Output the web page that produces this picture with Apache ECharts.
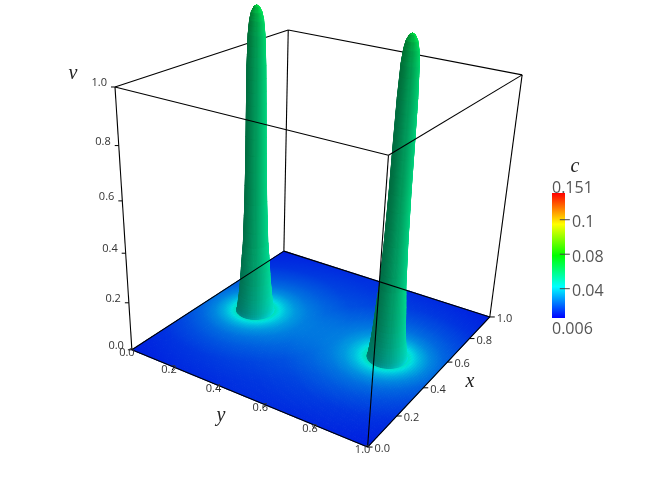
<!DOCTYPE html>
<html><head><meta charset="utf-8">
<style>html,body{margin:0;padding:0;background:#fff}#c{width:655px;height:495px}</style>
<script src="https://cdn.jsdelivr.net/npm/echarts@6/dist/echarts.min.js"></script>
</head><body><div id="c"></div>
<script>
// ---- values ----
const xTicks = [0, 0.2, 0.4, 0.6, 0.8, 1];
const yTicks = [0, 0.2, 0.4, 0.6, 0.8, 1];
const vTicks = [0, 0.2, 0.4, 0.6, 0.8, 1];
const spikeCentres = [[0.5, 0.2], [0.5, 0.8]];
const spikeV = [0, 0.008, 0.02, 0.045, 0.08, 0.14, 0.22, 0.3, 0.476, 0.67, 0.86, 1.0, 1.11, 1.16, 1.187, 1.205, 1.21];
const spikeR = [0.074, 0.072, 0.07, 0.067, 0.063, 0.058, 0.053, 0.047, 0.041, 0.037, 0.035, 0.033, 0.029, 0.024, 0.018, 0.009, 0];
const spikeC = [0.042, 0.044, 0.046, 0.048, 0.05, 0.052, 0.054, 0.055, 0.056, 0.057, 0.057, 0.058, 0.06, 0.062, 0.064, 0.066, 0.068];
const floorR = [0, 0.07, 0.085, 0.1, 0.125, 0.16, 0.21, 0.28, 0.38, 0.5, 0.7, 1.0];
const floorExtraC = [0.04, 0.039, 0.036, 0.031, 0.025, 0.019, 0.014, 0.01, 0.006, 0.004, 0.002, 0];
const floorBaseC = 0.007;
const cMin = 0.006, cMax = 0.151;
const cMajorTicks = [0.04, 0.08, 0.12];
const cMinorTicks = [0.008, 0.016, 0.024, 0.032, 0.048, 0.056, 0.064, 0.072, 0.088, 0.096, 0.104, 0.112, 0.128, 0.136, 0.144];
const cLabelValues = [0.006, 0.04, 0.08, 0.12, 0.151];
const cLabels = ['0.006', '0.04', '0.08', '0.1', '0.151'];
const rainbow = ['#0000ff', '#00ffff', '#00ff00', '#ffff00', '#ff0000'];

// ---- camera: pixel position of each cube corner in the page ----
const cubeCorners = [
  [0,0,0,132,350],[0,1,0,367,447],[1,1,0,490,317],[1,0,0,284,251],
  [0,0,1,115,87],[0,1,1,389,155],[1,1,1,522,75],[1,0,1,288,30]
];
function solveCamera(cs){
  const A=Array.from({length:11},()=>new Array(12).fill(0));
  const add=(r,b)=>{for(let i=0;i<11;i++){for(let j=0;j<11;j++)A[i][j]+=r[i]*r[j];A[i][11]+=r[i]*b;}};
  cs.forEach(([x,y,z,u,v])=>{
    add([x,y,z,1,0,0,0,0,-u*x,-u*y,-u*z],u);
    add([0,0,0,0,x,y,z,1,-v*x,-v*y,-v*z],v);
  });
  for(let i=0;i<11;i++){
    let p=i;for(let k=i+1;k<11;k++)if(Math.abs(A[k][i])>Math.abs(A[p][i]))p=k;
    [A[i],A[p]]=[A[p],A[i]];
    for(let k=0;k<11;k++){if(k===i)continue;const f=A[k][i]/A[i][i];for(let j=i;j<12;j++)A[k][j]-=f*A[i][j];}
  }
  const s=A.map((r,i)=>r[11]/r[i]);
  return s;
}
const M = solveCamera(cubeCorners);
function project(x,y,z){
  const w=M[8]*x+M[9]*y+M[10]*z+1;
  return [(M[0]*x+M[1]*y+M[2]*z+M[3])/w,(M[4]*x+M[5]*y+M[6]*z+M[7])/w,w];
}
// ---- colour helpers ----
const rgbStops = rainbow.map(h=>[1,3,5].map(i=>parseInt(h.substr(i,2),16)));
function cColour(c,shade){
  let t=Math.max(0,Math.min(0.9999,(c-cMin)/(cMax-cMin)))*(rgbStops.length-1);
  const i=Math.floor(t),f=t-i,a=rgbStops[i],b=rgbStops[i+1];
  const ch=k=>Math.round(Math.min(255,(a[k]+(b[k]-a[k])*f)*shade));
  return 'rgb('+ch(0)+','+ch(1)+','+ch(2)+')';
}
function lookup(xs,ys,x){
  if(x<=xs[0])return ys[0];
  for(let i=1;i<xs.length;i++)if(x<=xs[i]){const f=(x-xs[i-1])/(xs[i]-xs[i-1]);return ys[i-1]+(ys[i]-ys[i-1])*f;}
  return ys[ys.length-1];
}
const shadeOf=(nx,ny,nz)=>0.64+0.15*(nx+ny)+0.24*nz;

// ---- meshes (display tessellation only) ----
const floorCells=[];
const FN=110;
for(let i=0;i<FN;i++)for(let j=0;j<FN;j++){
  const x0=i/FN,x1=(i+1)/FN,y0=j/FN,y1=(j+1)/FN,cx=(x0+x1)/2,cy=(y0+y1)/2;
  let c=floorBaseC;
  spikeCentres.forEach(s=>{c+=lookup(floorR,floorExtraC,Math.hypot(cx-s[0],cy-s[1]));});
  floorCells.push({pts:[[x0,y0,0],[x1,y0,0],[x1,y1,0],[x0,y1,0]].map(p=>project(...p)),fill:cColour(c,0.88)});
}
floorCells.sort((a,b)=>b.pts[0][2]-a.pts[0][2]);
const SECT=64;
const spikeCells=[];
spikeCentres.forEach(s=>{
  for(let k=0;k<spikeV.length-1;k++){
    const SUB=3;
    for(let q=0;q<SUB;q++){
      const f0=q/SUB,f1=(q+1)/SUB;
      const r0=spikeR[k]+(spikeR[k+1]-spikeR[k])*f0,r1=spikeR[k]+(spikeR[k+1]-spikeR[k])*f1;
      const v0=spikeV[k]+(spikeV[k+1]-spikeV[k])*f0,v1=spikeV[k]+(spikeV[k+1]-spikeV[k])*f1;
      const c=spikeC[k]+(spikeC[k+1]-spikeC[k])*(f0+f1)/2;
      for(let a=0;a<SECT;a++){
        const t0=a/SECT*2*Math.PI,t1=(a+1)/SECT*2*Math.PI,tm=(t0+t1)/2;
        const P=(r,v,t)=>project(s[0]+r*Math.cos(t),s[1]+r*Math.sin(t),v);
        const pts=[P(r0,v0,t0),P(r0,v0,t1),P(r1,v1,t1),P(r1,v1,t0)];
        const area=pts.reduce((acc,p,i)=>{const n=pts[(i+1)%4];return acc+p[0]*n[1]-n[0]*p[1];},0);
        if(area<=0)continue;
        const dv=v1-v0,dr=r0-r1,l=Math.hypot(dv,dr)||1;
        const sh=shadeOf(dv/l*Math.cos(tm),dv/l*Math.sin(tm),dr/l);
        spikeCells.push({pts,fill:cColour(c,sh),w:pts.reduce((acc,p)=>acc+p[2],0)});
      }
    }
  }
});
spikeCells.sort((a,b)=>b.w-a.w);

const backEdges=[[[0,0,1],[1,0,1]],[[1,0,1],[1,1,1]],[[1,0,0],[1,0,1]]];
const frontEdges=[[[0,0,0],[0,0,1]],[[0,1,0],[0,1,1]],[[1,1,0],[1,1,1]],
  [[0,0,1],[0,1,1]],[[0,1,1],[1,1,1]],
  [[0,0,0],[0,1,0]],[[0,1,0],[1,1,0]],[[1,1,0],[1,0,0]],[[1,0,0],[0,0,0]]];

const tickLabelFont='11px "Open Sans"';
const tickMarks=[],tickTexts=[];
xTicks.forEach(t=>{const p=project(t,1,0);tickMarks.push([p[0],p[1],p[0]+5,p[1]]);
  tickTexts.push({x:p[0]+7,y:p[1]+2,text:t.toFixed(1),align:'left'});});
yTicks.forEach(t=>{const p=project(0,t,0);if(t>0&&t<1)tickMarks.push([p[0],p[1],p[0]-2,p[1]+3]);
  tickTexts.push({x:p[0]-5,y:p[1]+3,text:t.toFixed(1),align:'center'});});
vTicks.forEach(t=>{const p=project(0,0,t);tickMarks.push([p[0],p[1],p[0]-4,p[1]]);
  tickTexts.push({x:p[0]-8,y:p[1]-4,text:t.toFixed(1),align:'right'});});

const axisTitles=[
  {text:'v',x:73,y:74},{text:'x',x:470,y:382},{text:'y',x:221,y:416},{text:'c',x:575,y:167}
];

function polySeries(cells,z){
  return {type:'custom',coordinateSystem:'none',z,silent:true,animation:false,progressive:0,
    data:cells.map((_,i)=>i),clip:false,
    renderItem(params){const q=cells[params.dataIndex];
      return {type:'polygon',shape:{points:q.pts.map(p=>[p[0],p[1]])},
        style:{fill:q.fill,stroke:q.fill,lineWidth:1}};}};
}
function edgeSeries(edges,z){
  return {type:'custom',coordinateSystem:'none',z,silent:true,animation:false,progressive:0,
    data:edges.map((_,i)=>i),
    renderItem(params){const e=edges[params.dataIndex],a=project(...e[0]),b=project(...e[1]);
      return {type:'line',shape:{x1:a[0],y1:a[1],x2:b[0],y2:b[1]},style:{stroke:'#000',lineWidth:1.1}};}};
}
const chart=echarts.init(document.getElementById('c'),null,{renderer:'canvas',width:655,height:495});
chart.setOption({
  animation:false,backgroundColor:'#fff',
  grid:{left:552,top:193,width:13,height:125,containLabel:false},
  xAxis:{type:'value',min:0,max:1,show:false},
  yAxis:{type:'value',min:cMin,max:cMax,position:'right',
    axisLine:{show:false},splitLine:{show:false},
    axisTick:{show:true,length:5,inside:false,customValues:cMinorTicks,lineStyle:{color:'#555',width:1}},
    axisLabel:{show:false}},
  series:[
    polySeries(floorCells,1),
    edgeSeries(backEdges,0),
    polySeries(spikeCells,3),
    edgeSeries(frontEdges,4),
    {type:'custom',coordinateSystem:'none',z:5,silent:true,animation:false,data:tickMarks.map((_,i)=>i),
      renderItem(p){const m=tickMarks[p.dataIndex];return {type:'line',shape:{x1:m[0],y1:m[1],x2:m[2],y2:m[3]},style:{stroke:'#000',lineWidth:1}};}},
    {type:'custom',coordinateSystem:'none',z:6,silent:true,animation:false,data:tickTexts.map((_,i)=>i),
      renderItem(p){const t=tickTexts[p.dataIndex];return {type:'text',style:{x:t.x,y:t.y,text:t.text,font:tickLabelFont,fill:'#333',align:t.align,verticalAlign:'middle'}};}},
    {type:'custom',coordinateSystem:'none',z:6,silent:true,animation:false,data:axisTitles.map((_,i)=>i),
      renderItem(p){const t=axisTitles[p.dataIndex];return {type:'text',style:{x:t.x,y:t.y,text:t.text,font:'italic 20px "Liberation Serif"',fill:'#222',align:'center',verticalAlign:'middle'}};}},
    // colour bar
    {type:'custom',coordinateSystem:'cartesian2d',z:2,silent:true,animation:false,data:[[0,cMin,1,cMax]],
      encode:{x:[0,2],y:[1,3]},
      renderItem(p,api){const a=api.coord([0,cMin]),b=api.coord([1,cMax]);
        return {type:'rect',shape:{x:a[0],y:b[1],width:b[0]-a[0],height:a[1]-b[1]},
          style:{fill:new echarts.graphic.LinearGradient(0,1,0,0,rainbow.map((c,i)=>({offset:i/(rainbow.length-1),color:c})))}};}},
    {type:'custom',coordinateSystem:'cartesian2d',z:3,silent:true,animation:false,data:cMajorTicks.map(v=>[0.6,v]),
      encode:{x:0,y:1},
      renderItem(p,api){const a=api.coord([api.value(0),api.value(1)]);
        return {type:'line',shape:{x1:a[0],y1:a[1],x2:a[0]+10,y2:a[1]},style:{stroke:'#444',lineWidth:1}};}},
    {type:'custom',coordinateSystem:'cartesian2d',z:3,silent:true,animation:false,data:cLabelValues.map(v=>[0,v]),
      encode:{x:0,y:1},
      renderItem(p,api){const a=api.coord([api.value(0),api.value(1)]),i=p.dataIndex,end=i===0||i===cLabels.length-1;
        return {type:'text',style:{x:a[0]+(end?0:20),y:a[1]+(i===0?11:end?-5:3),text:cLabels[i],font:'16px "Open Sans"',fill:'#555',align:'left',verticalAlign:'middle'}};}}
  ]
});
</script></body></html>
